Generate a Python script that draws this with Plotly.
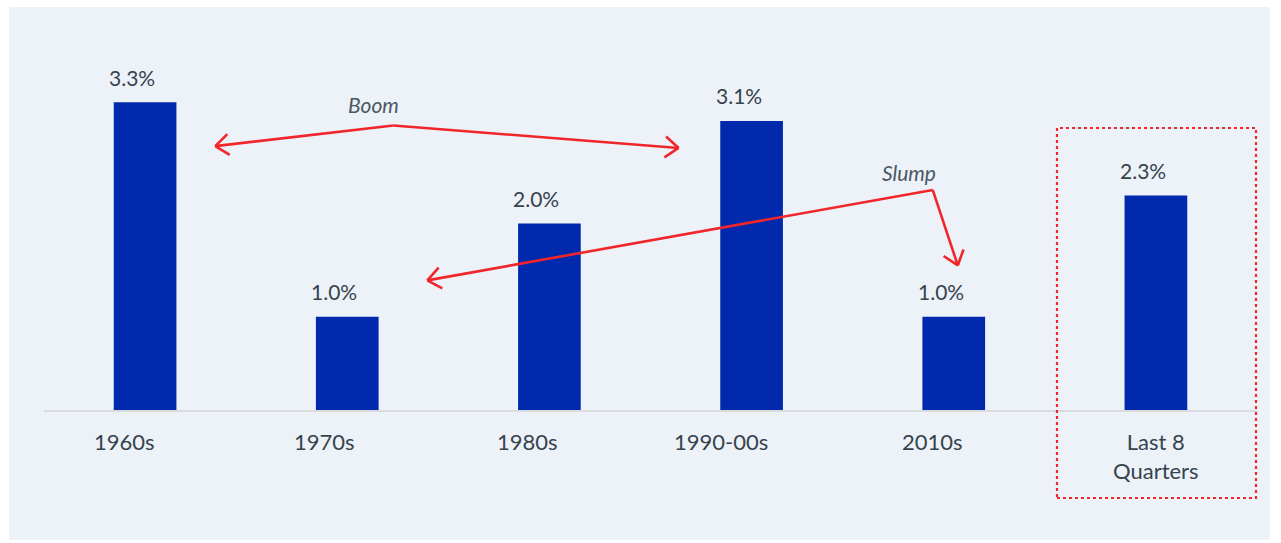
import math
import plotly.graph_objects as go

categories = ["1960s", "1970s", "1980s", "1990-00s", "2010s", "Last 8<br>Quarters"]
values = [3.3, 1.0, 2.0, 3.1, 1.0, 2.3]
value_labels = ["3.3%", "1.0%", "2.0%", "3.1%", "1.0%", "2.3%"]

# arrow paths in data units (x = category index, y = value)
boom_path = [(0.347, 2.83), (1.228, 3.05), (2.639, 2.81)]
slump_path = [(1.396, 1.39), (3.896, 2.36), (4.02, 1.55)]
boom_label = (1.13, 3.28)
slump_label = (3.78, 2.55)

# styling: horizontal pixel nudges of the category labels (as in the source layout)
tick_label_shift = [-21, -23, -22, -31, -21, 0]
value_label_shift = -13

W, H = 1281, 543
L, R, T, B = 44, 24, 9, 133
YMAX = 4.3
pw = W - L - R
ph = H - T - B
sx = pw / 6.0
sy = ph / YMAX

BAR = "#0029ad"
TXT = "#36434d"
RED = "#f0262b"
FONT = "Lato"

fig = go.Figure()
fig.add_trace(go.Bar(x=categories, y=values, marker=dict(color=BAR, line=dict(width=0)),
                     width=0.31, hoverinfo="skip"))

annotations = []
for c, v, t in zip(categories, values, value_labels):
    annotations.append(dict(x=c, y=v, text=t, showarrow=False, yanchor="middle", yshift=25,
                            xshift=value_label_shift,
                            font=dict(family=FONT, size=21, color=TXT)))
for c, s in zip(categories, tick_label_shift):
    annotations.append(dict(x=c, y=0, yref="paper", text=c, showarrow=False, yanchor="top",
                            xshift=s, yshift=-17, borderpad=0,
                            font=dict(family=FONT, size=22, color=TXT)))
annotations.append(dict(x=boom_label[0], y=boom_label[1], text="<i>Boom</i>", showarrow=False,
                        font=dict(family=FONT, size=21, color="#4a5863")))
annotations.append(dict(x=slump_label[0], y=slump_label[1], text="<i>Slump</i>", showarrow=False,
                        font=dict(family=FONT, size=21, color="#4a5863")))

shapes = []
def px(p):
    return (L + (p[0] + 0.5) * sx, T + ph - p[1] * sy)
def dt(q):
    return ((q[0] - L) / sx - 0.5, (T + ph - q[1]) / sy)

def line(a, b):
    shapes.append(dict(type="line", xref="x", yref="y", x0=a[0], y0=a[1], x1=b[0], y1=b[1],
                       line=dict(color=RED, width=2.6)))

def head(tip, frm, length=17, ang=38):
    tp, fp = px(tip), px(frm)
    dx, dy = fp[0] - tp[0], fp[1] - tp[1]
    n = math.hypot(dx, dy)
    ux, uy = dx / n, dy / n
    for s in (1, -1):
        a = math.radians(ang) * s
        rx = ux * math.cos(a) - uy * math.sin(a)
        ry = ux * math.sin(a) + uy * math.cos(a)
        line(tip, dt((tp[0] + rx * length, tp[1] + ry * length)))

for path in (boom_path, slump_path):
    line(path[0], path[1])
    line(path[1], path[2])
    head(path[0], path[1])
    head(path[2], path[1])

def pxp(x, y):
    return ((x - L) / pw, (T + ph - y) / ph)

# panel background
x0, y0 = pxp(9, 540)
x1, y1 = pxp(1270, 7)
shapes.append(dict(type="rect", xref="paper", yref="paper", x0=x0, y0=y0, x1=x1, y1=y1,
                   fillcolor="#edf2f9", line=dict(width=0), layer="below"))
# dotted highlight box
bx0, by0 = pxp(1057, 498)
bx1, by1 = pxp(1256, 128)
shapes.append(dict(type="rect", xref="paper", yref="paper", x0=bx0, y0=by0, x1=bx1, y1=by1,
                   line=dict(color=RED, width=2.2, dash="dot"), fillcolor="rgba(0,0,0,0)"))

fig.update_layout(
    width=W, height=H, margin=dict(l=L, r=R, t=T, b=B),
    paper_bgcolor="white", plot_bgcolor="rgba(0,0,0,0)",
    showlegend=False, bargap=0.69,
    xaxis=dict(type="category", range=[-0.5, 5.5], showgrid=False, zeroline=False,
               showline=True, linecolor="#d9dbdf", linewidth=2,
               showticklabels=False, ticks="", fixedrange=True),
    yaxis=dict(range=[0, YMAX], visible=False, fixedrange=True),
    annotations=annotations, shapes=shapes,
)
fig.write_html("out.html")
